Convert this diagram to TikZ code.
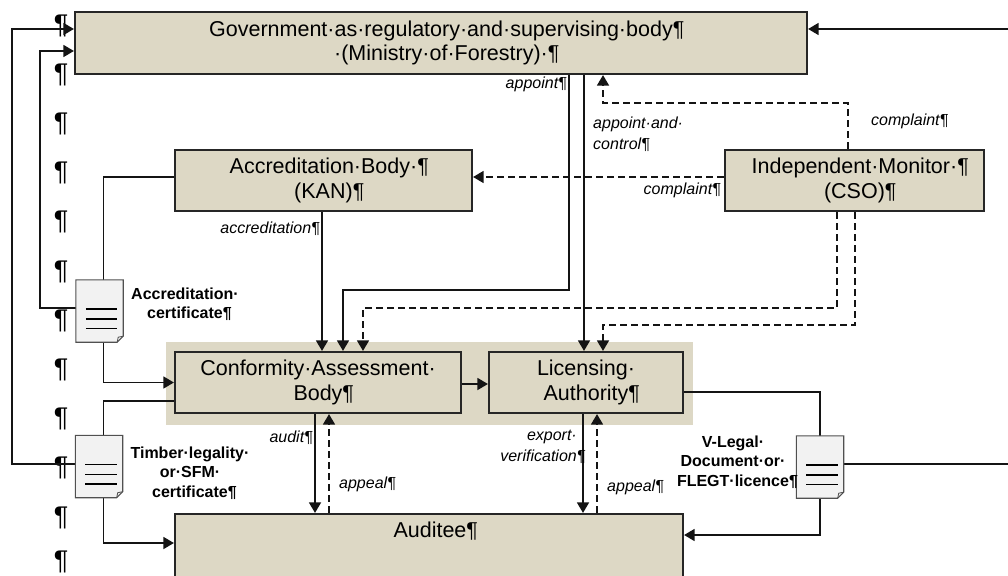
\documentclass[tikz,border=0pt]{standalone}
\usepackage{fontspec}
\setmainfont{Liberation Sans}
\usetikzlibrary{arrows.meta,calc}
\definecolor{tan}{RGB}{221,216,197}
\definecolor{boxline}{RGB}{38,38,38}
\definecolor{docfill}{RGB}{242,242,242}
\definecolor{docline}{RGB}{80,80,80}
\definecolor{lnk}{RGB}{20,20,20}
\newcommand\docshape[1]{%
  \filldraw[fill=docfill,draw=docline,line width=1.1pt] (#1.north west) -- (#1.north east) -- ([yshift=6pt]#1.south east) -- ([xshift=-6pt]#1.south east) -- (#1.south west) -- cycle;
  \draw[docline,line width=0.8pt] ([yshift=6pt]#1.south east) -- ([xshift=-5pt,yshift=5pt]#1.south east) -- ([xshift=-6pt]#1.south east);
  \foreach \dy in {2,-8,-17.5} \draw[line width=1.1pt] ([xshift=10pt,yshift=\dy pt]#1.west) -- ([xshift=-6pt,yshift=\dy pt]#1.east);
}
\begin{document}
\begin{tikzpicture}[x=1pt,y=-1pt,
  box/.style={draw=boxline,line width=2.2pt,fill=tan,inner sep=0pt,align=center,
    font=\fontsize{21.5}{24.5}\selectfont},
  doc/.style={minimum width=47pt,minimum height=62pt,inner sep=0pt},
  lab/.style={inner sep=0pt,font=\fontsize{16}{20.5}\selectfont\itshape},
  doclab/.style={inner sep=0pt,align=center,font=\fontsize{16}{19.5}\selectfont\bfseries},
  pil/.style={inner sep=0pt,font=\fontsize{27}{27}\selectfont},
  plain/.style={line width=1.5pt,draw=lnk},
  conn/.style={plain,-{Triangle[length=10.5pt,width=12pt]}},
  dconn/.style={conn,dash pattern=on 7pt off 4pt},
  dplain/.style={plain,dash pattern=on 7pt off 4pt}]
\useasboundingbox (0,0) rectangle (1008,575);
\clip (0,0) rectangle (1008,575);
\fill[white] (0,0) rectangle (1008,575);

% pilcrow column
\foreach \i in {0,...,10} \node[pil] (p\i) at (61,25.5+49.2*\i) {¶};
\node[pil] (p11) at (61,561.5) {¶};

% highlight
\fill[tan] (166,342) rectangle (693,425);

% boxes
\node[box,minimum width=732pt,minimum height=62pt] (gov) at (441,43)
  {Government·as·regulatory·and·supervising·body\rlap{¶}\\·(Ministry·of·Forestry)·\rlap{¶}};
\node[box,minimum width=297pt,minimum height=61pt] (ab) at (323.5,180.5)
  {Accreditation·Body·\rlap{¶}\\(KAN)\rlap{¶}};
\node[box,minimum width=259pt,minimum height=61pt] (im) at (854.5,180.5)
  {Independent·Monitor·\rlap{¶}\\(CSO)\rlap{¶}};
\node[box,minimum width=286pt,minimum height=61pt] (cab) at (318,382.5)
  {Conformity·Assessment·\\Body\rlap{¶}};
\node[box,minimum width=194pt,minimum height=61pt] (la) at (586,382.5)
  {Licensing·\\Authority\rlap{¶}};
\node[box,minimum width=508pt,minimum height=80pt] (aud) at (429,554) {};
\node[inner sep=0pt,font=\fontsize{21.5}{24.5}\selectfont] (audt) at (430,531) {Auditee\rlap{¶}};

% documents
\node[doc] (doc1) at (99.5,311) {};
\node[doc] (doc2) at (99,466.5) {};
\node[doc] (doc3) at (820,467) {};

% connectors (left)
\coordinate (l1) at (12,29);
\coordinate (l2) at (40,51);
\coordinate (r1) at (1010,29);
\coordinate (r2) at (1010,464);
\draw[conn] ([yshift=2.5pt]doc2.west) -| (l1) -- (gov.west |- l1);
\draw[conn] ([yshift=3pt]doc1.west) -| (l2) -- (gov.west |- l2);
\draw[plain] ([yshift=3.5pt]ab.west) -| (103.5,0 |- doc1.north);
\draw[conn] (103.5,0 |- doc1.south) |- (cab.west);
\draw[plain] ([yshift=-18.5pt]cab.west) -| (103.5,0 |- doc2.north);
\draw[conn] (103.5,0 |- doc2.south) |- ([yshift=11pt]aud.west);

% right side
\draw[conn] (r1) -- (gov.east |- r1);
\draw[plain] ([yshift=-9.5pt]la.east) -| (doc3.north);
\draw[conn] (doc3.south) |- ([yshift=19pt]aud.east);
\draw[plain] (doc3.east |- r2) -- (r2);

% government / monitor
\draw[conn] (569,0 |- gov.south) |- (343,290) -- (343,0 |- cab.north);
\draw[conn] (584,0 |- gov.south) -- (584,0 |- la.north);
\draw[conn] (322,0 |- ab.south) -- (322,0 |- cab.north);
\draw[dconn] ([yshift=3.5pt]im.west) -- ([yshift=3.5pt]ab.east);
\draw[dconn] (848,0 |- im.north) |- (603,103) -- (603,0 |- gov.south);
\draw[dconn] (837,0 |- im.south) |- (363,308) -- (363,0 |- cab.north);
\draw[dconn] (855,0 |- im.south) |- (603,325) -- (603,0 |- la.north);

% middle row
\draw[conn] ([yshift=-1.5pt]cab.east) -- ([yshift=-1.5pt]la.west);
\draw[conn] (315,0 |- cab.south) -- (315,0 |- aud.north);
\draw[dconn] (329,0 |- aud.north) -- (329,0 |- cab.south);
\draw[conn] (583,0 |- la.south) -- (583,0 |- aud.north);
\draw[dconn] (597,0 |- aud.north) -- (597,0 |- la.south);

% documents drawn on top
\docshape{doc1}
\docshape{doc2}
\docshape{doc3}

% labels
\node[lab,anchor=east] (t1) at (567,84) {appoint¶};
\node[lab,anchor=west,align=left] (t2) at (593,134) {appoint·and·\\control¶};
\node[lab,anchor=west] (t3) at (871,121) {complaint¶};
\node[lab,anchor=east] (t4) at (721,190) {complaint¶};
\node[lab,anchor=east] (t5) at (320,229) {accreditation¶};
\node[lab,anchor=east] (t6) at (313,438) {audit¶};
\node[lab,anchor=west] (t7) at (339,484) {appeal¶};
\node[lab,anchor=east,align=right] (t8) at (577,447) {export·\\verification\rlap{¶}};
\node[lab,anchor=west] (t9) at (607,487) {appeal¶};

\node[doclab] (d1) at (185,304) {Accreditation·\\certificate\rlap{¶}};
\node[doclab] (d2) at (190,473) {Timber·legality·\\or·SFM·\\certificate\rlap{¶}};
\node[doclab] (d3) at (733,462) {V-Legal·\\Document·or·\\FLEGT·licence\rlap{¶}};
\end{tikzpicture}
\end{document}
